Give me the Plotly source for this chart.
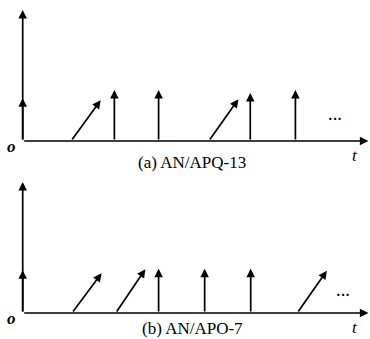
import plotly.graph_objects as go

# ---- data (time positions in pulse-interval units, amplitudes relative) ----
a_vert_t = [2.01, 2.98, 4.99, 5.98]
a_vert_amp = [1.0, 1.0, 0.94, 1.0]
a_slant_t = [1.06, 4.08]
a_slant_amp = [0.80, 0.82]

b_vert_t = [2.98, 3.99, 5.0]
b_vert_amp = [0.87, 0.87, 0.87]
b_slant_t = [1.08, 2.04, 6.02]
b_slant_amp = [0.78, 0.86, 0.83]

slant_dx = 0.65
axis_top = 2.57
axis_mark = 0.84
t_end = 7.58

captions = ["(a) AN/APQ-13", "(b) AN/APO-7"]

panels = [
    ("x", "y", a_vert_t, a_vert_amp, a_slant_t, a_slant_amp, captions[0], 6.85, 0.43, -0.42),
    ("x2", "y2", b_vert_t, b_vert_amp, b_slant_t, b_slant_amp, captions[1], 7.02, 0.35, -0.30),
]

SERIF = "Liberation Serif, Times New Roman, DejaVu Serif, serif"

fig = go.Figure()
fig.add_trace(go.Scatter(x=[0], y=[0], xaxis="x", yaxis="y", mode="markers",
                         marker=dict(opacity=0), hoverinfo="skip", showlegend=False))
fig.add_trace(go.Scatter(x=[0], y=[0], xaxis="x2", yaxis="y2", mode="markers",
                         marker=dict(opacity=0), hoverinfo="skip", showlegend=False))

annotations = []
AW = 1.7


def arrow(xr, yr, x0, y0, x1, y1, head=2, size=1.0):
    return dict(xref=xr, yref=yr, axref=xr, ayref=yr, x=x1, y=y1, ax=x0, ay=y0,
                showarrow=True, arrowhead=head, arrowsize=size, arrowwidth=AW,
                arrowcolor="black", text="", standoff=0, startstandoff=0)


for xr, yr, vt, va, st, sa, cap, dotx, doty, capy in panels:
    annotations.append(arrow(xr, yr, 0, 0, t_end, 0))
    annotations.append(arrow(xr, yr, 0, 0, 0, axis_top))
    annotations.append(arrow(xr, yr, 0, 0, 0, axis_mark))
    for t, a in zip(vt, va):
        annotations.append(arrow(xr, yr, t, 0, t, a))
    for t, a in zip(st, sa):
        annotations.append(arrow(xr, yr, t, 0, t + slant_dx, a))
    annotations.append(dict(xref=xr, yref=yr, x=-0.235, y=-0.1, text="<i><b>o</b></i>", showarrow=False,
                            font=dict(family=SERIF, size=17, color="black"),
                            xanchor="center", yanchor="middle"))
    annotations.append(dict(xref=xr, yref=yr, x=7.29, y=-0.29, text="<i>t</i>", showarrow=False,
                            font=dict(family=SERIF, size=17, color="black"),
                            xanchor="center", yanchor="middle"))
    annotations.append(dict(xref=xr, yref=yr, x=dotx, y=doty, text="<b>···</b>", showarrow=False,
                            font=dict(family=SERIF, size=14, color="black"),
                            xanchor="center", yanchor="middle"))
    annotations.append(dict(xref=xr, yref=yr, x=3.72, y=capy, text=cap, showarrow=False,
                            font=dict(family=SERIF, size=17, color="black"),
                            xanchor="center", yanchor="middle"))

xr_range = [-0.498, 7.616]
ax_common = dict(visible=False, showgrid=False, zeroline=False, fixedrange=True)
fig.update_layout(
    width=370, height=339, autosize=False,
    margin=dict(l=0, r=0, t=0, b=0),
    paper_bgcolor="white", plot_bgcolor="white",
    font=dict(family=SERIF),
    showlegend=False,
    xaxis=dict(domain=[0, 1], range=xr_range, anchor="y", **ax_common),
    yaxis=dict(domain=[0.5, 1], range=[-0.559, 2.765], anchor="x", **ax_common),
    xaxis2=dict(domain=[0, 1], range=xr_range, anchor="y2", **ax_common),
    yaxis2=dict(domain=[0, 0.5], range=[-0.51, 2.814], anchor="x2", **ax_common),
    annotations=annotations,
)

fig.write_html("out.html", config={"displayModeBar": False},
               post_script="document.body.style.margin='0px';document.body.style.overflow='hidden';")
